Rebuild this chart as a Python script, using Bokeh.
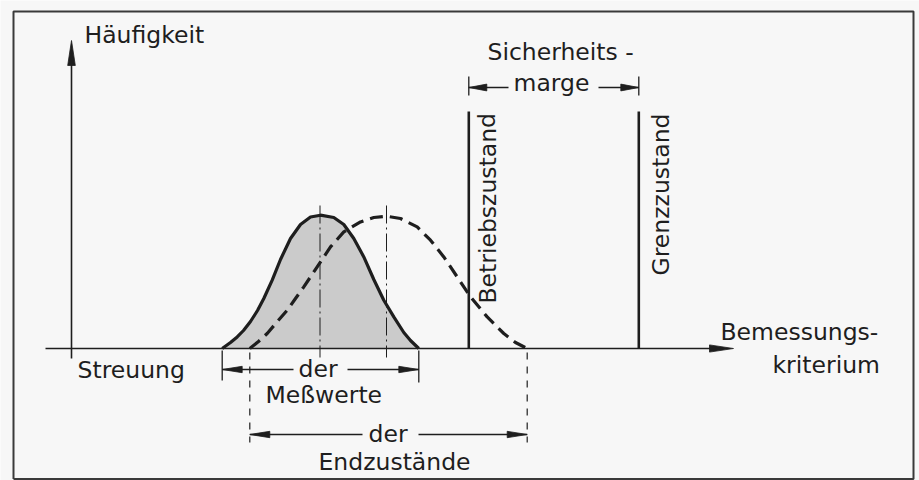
import numpy as np
from bokeh.plotting import figure
from bokeh.models import Range1d
from bokeh.core.properties import value
from bokeh.embed import file_html
from bokeh.resources import INLINE

# ---- values (x along "Bemessungskriterium", h = Häufigkeit above baseline)
mess_x = [221.7, 230, 236.7, 243, 250, 257, 263.3, 271.7, 280, 290, 300, 310, 320,
          333.3, 343.3, 353.3, 363.3, 373.3, 383.3, 393.3, 403.3, 410, 418.3]
mess_h = [0, 6, 11.6, 18, 27, 38, 50, 68.3, 89, 110, 124, 131.5, 133.3,
          131, 124, 110, 91.6, 69, 48.3, 31.6, 16, 8, 0]
end_x = [249.3, 258, 266.7, 276, 286.7, 295, 303.3, 316.7, 330, 343.3, 360, 373.3, 386,
         400, 416.7, 430, 443.3, 456.7, 470, 486.7, 503.3, 515, 526.7]
end_h = [0, 7, 15, 26, 38.3, 50, 61.6, 81.6, 101.6, 116.6, 126.6, 131, 132.3,
         130, 121.6, 108.3, 91.6, 71.6, 51.6, 31.6, 15, 6, 0]
mess_mean = 319.5
end_mean = 386.0
mess_range = [221.7, 418.3]
end_range = [249.3, 526.7]
betrieb_x = 468.3
grenz_x = 638.3

FONT = value("DejaVu Sans")
INK = "#1e1e1e"
TXT_SHIFT = 9       # compensates the renderer's baseline offset (horizontal labels)
TXT_SHIFT_ROT = 13  # same for the rotated labels

p = figure(width=919, height=480, x_range=Range1d(0, 919), y_range=Range1d(-132, 348),
           output_backend="svg", toolbar_location=None, x_axis_type=None, y_axis_type=None,
           min_border=0)
p.outline_line_color = None
p.background_fill_color = "#f7f7f7"
p.border_fill_color = "#f7f7f7"

# frame
p.multi_line(xs=[[13, 13, 913, 913, 13]], ys=[[-130.5, 337, 337, -130.5, -130.5]],
             line_color="#3a3a3a", line_width=2)

# filled measured distribution
p.patch(x=mess_x, y=mess_h, fill_color="#cbcbcb", line_color=None)

# center lines (dash-dot)
p.segment(x0=[mess_mean, end_mean], y0=[143, 143], x1=[mess_mean, end_mean], y1=[-9, -9],
          line_color=INK, line_width=1, line_dash="18 4 2 4")

# curves
p.line(x=mess_x, y=mess_h, line_color=INK, line_width=3.2)
p.line(x=end_x, y=end_h, line_color=INK, line_width=3.2, line_dash="13 7")

# axes
p.segment(x0=[71, 45], y0=[-10, 0], x1=[71, 720], y1=[290, 0], line_color=INK, line_width=1.6)

# Betriebszustand / Grenzzustand lines
p.segment(x0=[betrieb_x, grenz_x], y0=[0, 0], x1=[betrieb_x, grenz_x], y1=[237, 237],
          line_color=INK, line_width=2.6)

# extension lines
p.segment(x0=[mess_range[0], mess_range[1], betrieb_x, grenz_x],
          y0=[-2, -2, 253, 253],
          x1=[mess_range[0], mess_range[1], betrieb_x, grenz_x],
          y1=[-32, -34, 272, 272], line_color=INK, line_width=1.3)
p.segment(x0=end_range, y0=[-4, -4], x1=end_range, y1=[-94, -94],
          line_color=INK, line_width=1.2, line_dash="7 7")

# dimension line segments
dim_y_mess, dim_y_end, dim_y_marge = -21, -86, 261
p.segment(x0=[mess_range[0], 347, end_range[0], 418, betrieb_x, 598],
          y0=[dim_y_mess, dim_y_mess, dim_y_end, dim_y_end, dim_y_marge, dim_y_marge],
          x1=[293, mess_range[1], 362, end_range[1], 508, grenz_x],
          y1=[dim_y_mess, dim_y_mess, dim_y_end, dim_y_end, dim_y_marge, dim_y_marge],
          line_color=INK, line_width=1.3)

# arrowheads: (tip x, tip y, dir x, dir y, length, half width)
heads = [
    (71, 308, 0, 1, 25, 3.8),
    (733, 0, 1, 0, 24, 3.6),
    (mess_range[0], dim_y_mess, -1, 0, 20, 3.2),
    (mess_range[1], dim_y_mess, 1, 0, 20, 3.2),
    (end_range[0], dim_y_end, -1, 0, 20, 3.2),
    (end_range[1], dim_y_end, 1, 0, 20, 3.2),
    (betrieb_x, dim_y_marge, -1, 0, 18, 3.4),
    (grenz_x, dim_y_marge, 1, 0, 18, 3.4),
]
hx, hy = [], []
for tx, ty, dx, dy, L, w in heads:
    nx, ny = -dy, dx
    hx.append([tx, tx - L * dx + w * nx, tx - L * dx - w * nx])
    hy.append([ty, ty - L * dy + w * ny, ty - L * dy - w * ny])
p.patches(xs=hx, ys=hy, fill_color=INK, line_color=INK, line_width=0.8)

# labels: (x, baseline y, text, angle)
labels = [
    (84, 305, "Häufigkeit", 0),
    (487, 288, "Sicherheits -", 0),
    (513, 257, "marge", 0),
    (500, 45, "Betriebszustand", np.pi / 2),
    (673, 73, "Grenzzustand", np.pi / 2),
    (720, 8, "Bemessungs-", 0),
    (772, -25, "kriterium", 0),
    (77, -30, "Streuung", 0),
    (298, -29, "der", 0),
    (265, -55, "Meßwerte", 0),
    (368, -94, "der", 0),
    (318, -122, "Endzustände", 0),
]
lx = [l[0] - (TXT_SHIFT_ROT if l[3] else 0) for l in labels]
ly = [l[1] + (0 if l[3] else TXT_SHIFT) for l in labels]
p.text(x=lx, y=ly, text=[l[2] for l in labels],
       angle=[l[3] for l in labels], text_font=FONT, text_font_size="23.5px",
       text_color=INK, text_align="left", text_baseline="alphabetic")

open("out.html", "w").write(file_html(p, INLINE))
